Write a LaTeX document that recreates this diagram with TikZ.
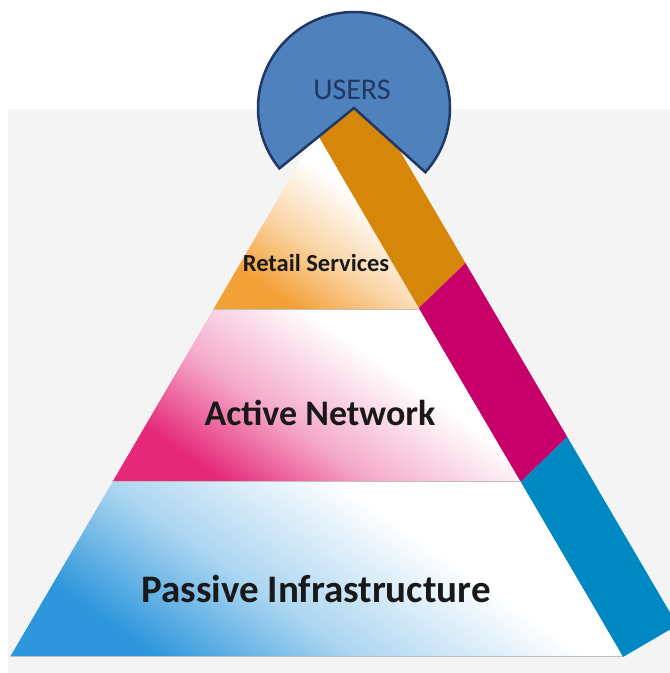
\documentclass[tikz,border=0pt]{standalone}
\usepackage{fontspec}
\setmainfont{Carlito}
\definecolor{bgGray}{RGB}{244,244,244}
\definecolor{bandOrange}{RGB}{214,135,10}
\definecolor{bandMagenta}{RGB}{200,0,106}
\definecolor{bandBlue}{RGB}{0,136,194}
\definecolor{retailFill}{RGB}{243,160,55}
\definecolor{activeFill}{RGB}{229,40,120}
\definecolor{passiveFill}{RGB}{45,150,220}
\definecolor{usersFill}{RGB}{79,129,189}
\definecolor{usersLine}{RGB}{31,56,100}
\pgfdeclareverticalshading{retailShade}{100bp}{color(0bp)=(retailFill); color(28bp)=(retailFill); color(44bp)=(retailFill!45); color(62bp)=(white); color(100bp)=(white)}
\pgfdeclareverticalshading{activeShade}{100bp}{color(0bp)=(activeFill); color(27bp)=(activeFill); color(43bp)=(activeFill!40); color(62bp)=(white); color(100bp)=(white)}
\pgfdeclareverticalshading{passiveShade}{100bp}{color(0bp)=(passiveFill); color(27bp)=(passiveFill); color(43bp)=(passiveFill!40); color(62bp)=(white); color(100bp)=(white)}
\begin{document}
\begin{tikzpicture}[
    x=1pt, y=1pt,
    layer/.style={draw=none, shading=#1, shading angle=-35},
    divider/.style={draw=black!25, line width=1pt},
    band/.style={fill=#1, draw=none},
    tier/.style={anchor=base, text=black!90}
    ]

\useasboundingbox (0,0) rectangle (670,673);
\clip (0,0) rectangle (670,673);
\fill[bgGray] (8,0) rectangle (670,564);

\coordinate (bl) at (10,16);
\coordinate (br) at (623,16);
\coordinate (apex) at (316.5,540);
\coordinate (l1) at (112.4,191);
\coordinate (r1) at (520.6,191);
\coordinate (l2) at (213,363);
\coordinate (r2) at (419,363);

\path[band=bandOrange] (293,580) -- (366,580) -- (465.5,410) -- (418.8,365) -- cycle;
\path[band=bandMagenta] (418.8,365) -- (465.5,410) -- (567.3,236) -- (r1) -- cycle;
\path[band=bandBlue] (r1) -- (567.3,236) -- (677.4,47.8) -- (br) -- cycle;

\path[layer=passiveShade] (bl) -- (br) -- (r1) -- (l1) -- cycle;
\path[layer=activeShade] (l1) -- (r1) -- (r2) -- (l2) -- cycle;
\path[layer=retailShade] (l2) -- (r2) -- (apex) -- cycle;
\draw[divider] (bl) -- (br);
\draw[divider] (l1) -- (r1);
\draw[divider] (l2) -- (r2);

\draw[fill=usersFill, draw=usersLine, line width=2.5pt, line join=miter]
    (354,565) -- ++(318:96pt) arc[start angle=318, end angle=579, radius=96pt] -- cycle;

\node[anchor=base, font=\fontsize{30}{30}\selectfont, text=usersLine] (users) at (352,573) {USERS};
\node[tier, font=\bfseries\fontsize{24.5}{24.5}\selectfont] (retail) at (316,401) {Retail Services};
\node[tier, font=\bfseries\fontsize{36}{36}\selectfont] (active) at (320,247) {Active Network};
\node[tier, font=\bfseries\fontsize{39}{39}\selectfont] (passive) at (316,70) {Passive Infrastructure};
\end{tikzpicture}
\end{document}
